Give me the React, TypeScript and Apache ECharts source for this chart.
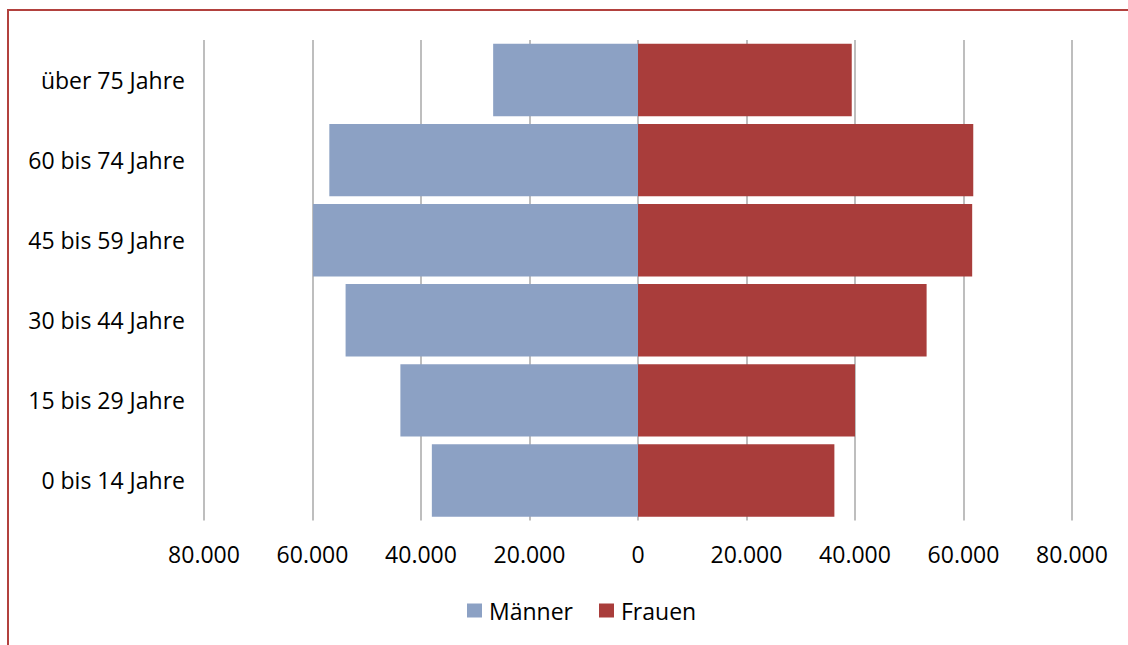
import React, { useEffect, useRef } from "react";
import * as echarts from "echarts";

const categories = [
  "0 bis 14 Jahre",
  "15 bis 29 Jahre",
  "30 bis 44 Jahre",
  "45 bis 59 Jahre",
  "60 bis 74 Jahre",
  "über 75 Jahre",
];
const maenner = [38000, 43800, 53900, 59900, 56900, 26700];
const frauen = [36200, 40000, 53200, 61600, 61800, 39400];
const seriesNames = ["Männer", "Frauen"];

const FONT = "'Open Sans', sans-serif";

function fmt(v: number): string {
  const s = String(Math.round(Math.abs(v)));
  return s.replace(/\B(?=(\d{3})+(?!\d))/g, ".");
}

export default function App() {
  const ref = useRef<HTMLDivElement>(null);
  useEffect(() => {
    if (!ref.current) return;
    const chart = echarts.init(ref.current, undefined, { renderer: "svg" });
    chart.setOption({
      animation: false,
      textStyle: { fontFamily: FONT },
      grid: { left: 204, right: 56, top: 40, bottom: 124.5, containLabel: false },
      legend: {
        data: seriesNames,
        left: 467,
        top: 599,
        padding: 0,
        itemWidth: 15,
        itemHeight: 14,
        itemGap: 26,
        icon: "rect",
        textStyle: { fontFamily: FONT, fontSize: 23, color: "#000", padding: [0, 0, 0, 2] },
      },
      xAxis: {
        type: "value",
        min: -80000,
        max: 80000,
        interval: 20000,
        axisLine: { show: false },
        axisTick: { show: false },
        splitLine: { show: true, lineStyle: { color: "#a8a8a8", width: 1.5 } },
        axisLabel: {
          formatter: (v: number) => fmt(v),
          fontFamily: FONT,
          fontSize: 23,
          color: "#000",
          margin: 22,
        },
      },
      yAxis: {
        type: "category",
        data: categories,
        axisLine: { show: false },
        axisTick: { show: false },
        splitLine: { show: false },
        axisLabel: { fontFamily: FONT, fontSize: 23, color: "#000", margin: 19, padding: [0, 0, 4, 0] },
      },
      series: [
        {
          name: seriesNames[0],
          type: "bar",
          stack: "total",
          barCategoryGap: "9.5%",
          data: maenner.map((v) => -v),
          itemStyle: { color: "#8CA1C4" },
        },
        {
          name: seriesNames[1],
          type: "bar",
          stack: "total",
          barCategoryGap: "9.5%",
          data: frauen,
          itemStyle: { color: "#A93D3B" },
        },
      ],
    });
    return () => chart.dispose();
  }, []);
  return (
    <div
      style={{
        position: "absolute",
        left: 0,
        top: 0,
        width: 1128,
        height: 645,
        overflow: "hidden",
        background: "#fff",
      }}
    >
      <div ref={ref} style={{ position: "absolute", left: 0, top: 0, width: 1128, height: 645 }} />
      <div
        style={{
          position: "absolute",
          left: 7,
          top: 9,
          width: 2000,
          height: 2000,
          borderLeft: "2px solid #B2413E",
          borderTop: "2px solid #B2413E",
          pointerEvents: "none",
        }}
      />
    </div>
  );
}
